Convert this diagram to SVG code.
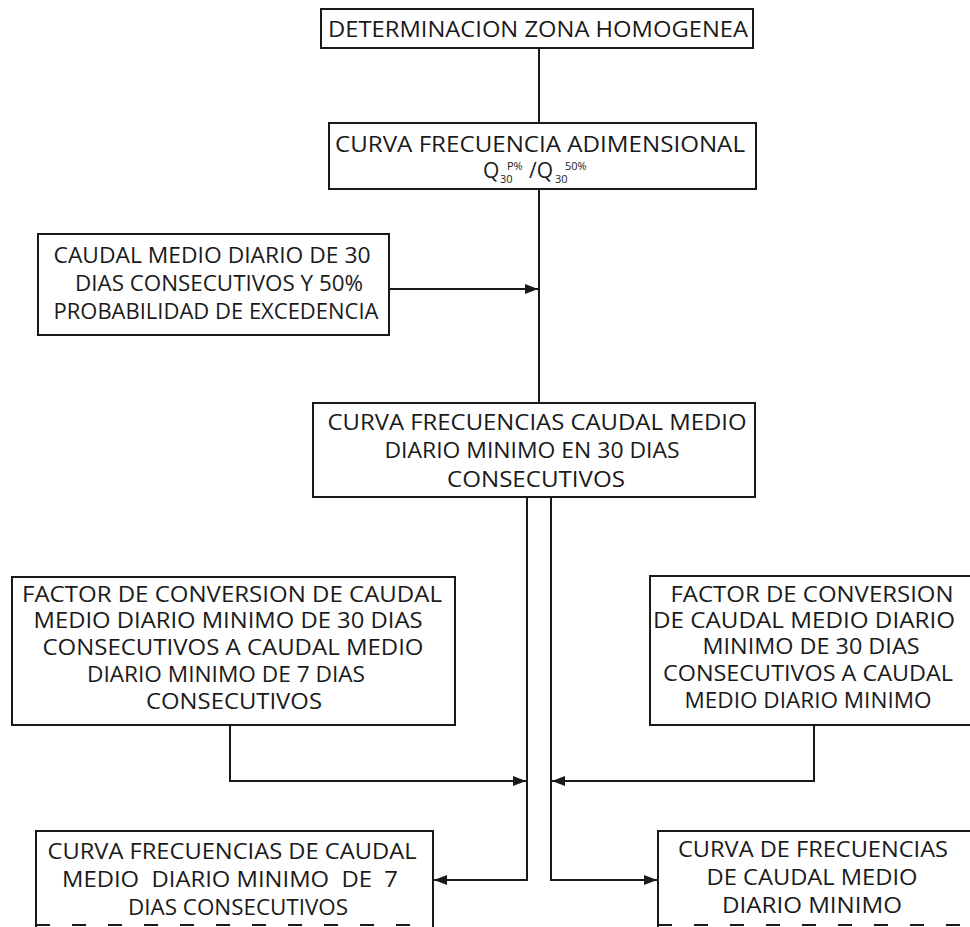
<svg xmlns="http://www.w3.org/2000/svg" width="970" height="927" viewBox="0 0 970 927">
<style>
.box{fill:#fff;stroke:#1a1a1a;stroke-width:2}
.t{font-family:"Open Sans","Liberation Sans",sans-serif;font-size:21px;fill:#1a1a1a;text-anchor:middle}
.s{font-family:"Open Sans","Liberation Sans",sans-serif;fill:#1a1a1a}
.c{fill:none;stroke:#1a1a1a;stroke-width:2}
</style>
<defs>
<marker id="ah" markerWidth="14" markerHeight="11" refX="13" refY="5.5" orient="auto" markerUnits="userSpaceOnUse">
<path d="M0,0.5 L13,5.5 L0,10.5 Z" fill="#1a1a1a"/>
</marker>
</defs>
<rect width="970" height="927" fill="#fff"/>
<g id="connectors">
<line class="c" x1="539" y1="48" x2="539" y2="123"/>
<line class="c" x1="539" y1="189" x2="539" y2="403"/>
<line class="c" x1="389" y1="289" x2="538" y2="289" marker-end="url(#ah)"/>
<polyline class="c" points="527,497 527,880 434,880" marker-end="url(#ah)"/>
<polyline class="c" points="551,497 551,880 657,880" marker-end="url(#ah)"/>
<polyline class="c" points="230,725 230,781 526,781" marker-end="url(#ah)"/>
<polyline class="c" points="814,725 814,781 552,781" marker-end="url(#ah)"/>
</g>
<g id="n1">
<rect class="box" x="321" y="9" width="432" height="39"/>
<text class="t" x="538" y="37" font-size="22" textLength="420" lengthAdjust="spacingAndGlyphs">DETERMINACION ZONA HOMOGENEA</text>
</g>
<g id="n2">
<rect class="box" x="329" y="123" width="427" height="66"/>
<text class="t" x="540" y="152" textLength="410" lengthAdjust="spacingAndGlyphs">CURVA FRECUENCIA ADIMENSIONAL</text>
<text class="s" font-size="21"><tspan x="483" y="178">Q</tspan><tspan x="500" y="183" font-size="11">30</tspan><tspan x="507" y="170" font-size="11">P%</tspan><tspan x="529" y="178">/Q</tspan><tspan x="555" y="183" font-size="11">30</tspan><tspan x="565" y="170" font-size="11">50%</tspan></text>
</g>
<g id="n3">
<rect class="box" x="38" y="234" width="351" height="101"/>
<text class="t" x="212" y="263" textLength="317" lengthAdjust="spacingAndGlyphs">CAUDAL MEDIO DIARIO DE 30</text>
<text class="t" x="219" y="291" textLength="288" lengthAdjust="spacingAndGlyphs">DIAS CONSECUTIVOS Y 50%</text>
<text class="t" x="216" y="319" textLength="325" lengthAdjust="spacingAndGlyphs">PROBABILIDAD DE EXCEDENCIA</text>
</g>
<g id="n4">
<rect class="box" x="313" y="403" width="442" height="94"/>
<text class="t" x="537" y="430" textLength="419" lengthAdjust="spacingAndGlyphs">CURVA FRECUENCIAS CAUDAL MEDIO</text>
<text class="t" x="532" y="458" textLength="295" lengthAdjust="spacingAndGlyphs">DIARIO MINIMO EN 30 DIAS</text>
<text class="t" x="536" y="487" textLength="178" lengthAdjust="spacingAndGlyphs">CONSECUTIVOS</text>
</g>
<g id="n5">
<rect class="box" x="12" y="577" width="443" height="148"/>
<text class="t" x="232" y="602" textLength="420" lengthAdjust="spacingAndGlyphs">FACTOR DE CONVERSION DE CAUDAL</text>
<text class="t" x="228" y="628" textLength="389" lengthAdjust="spacingAndGlyphs">MEDIO DIARIO MINIMO DE 30 DIAS</text>
<text class="t" x="233" y="655" textLength="381" lengthAdjust="spacingAndGlyphs">CONSECUTIVOS A CAUDAL MEDIO</text>
<text class="t" x="226" y="682" textLength="278" lengthAdjust="spacingAndGlyphs">DIARIO MINIMO DE 7 DIAS</text>
<text class="t" x="234" y="709" textLength="176" lengthAdjust="spacingAndGlyphs">CONSECUTIVOS</text>
</g>
<g id="n6">
<rect class="box" x="650" y="576" width="340" height="149"/>
<text class="t" x="812" y="602" textLength="283" lengthAdjust="spacingAndGlyphs">FACTOR DE CONVERSION</text>
<text class="t" x="804" y="628" textLength="302" lengthAdjust="spacingAndGlyphs">DE CAUDAL MEDIO DIARIO</text>
<text class="t" x="811" y="654" textLength="217" lengthAdjust="spacingAndGlyphs">MINIMO DE 30 DIAS</text>
<text class="t" x="808" y="681" textLength="290" lengthAdjust="spacingAndGlyphs">CONSECUTIVOS A CAUDAL</text>
<text class="t" x="808" y="708" textLength="247" lengthAdjust="spacingAndGlyphs">MEDIO DIARIO MINIMO</text>
</g>
<g id="n7">
<rect class="box" x="36" y="831" width="397" height="110"/>
<line x1="36" y1="925" x2="433" y2="925" stroke="#1a1a1a" stroke-width="2" stroke-dasharray="14,22"/>
<text class="t" x="232" y="859" textLength="369" lengthAdjust="spacingAndGlyphs">CURVA FRECUENCIAS DE CAUDAL</text>
<text class="t" x="230" y="887" textLength="336" lengthAdjust="spacingAndGlyphs" xml:space="preserve">MEDIO  DIARIO MINIMO  DE  7</text>
<text class="t" x="238" y="915" textLength="220" lengthAdjust="spacingAndGlyphs">DIAS CONSECUTIVOS</text>
</g>
<g id="n8">
<rect class="box" x="658" y="831" width="340" height="110"/>
<line x1="658" y1="925" x2="970" y2="925" stroke="#1a1a1a" stroke-width="2" stroke-dasharray="14,22"/>
<text class="t" x="813" y="857" textLength="270" lengthAdjust="spacingAndGlyphs">CURVA DE FRECUENCIAS</text>
<text class="t" x="812" y="885" textLength="211" lengthAdjust="spacingAndGlyphs">DE CAUDAL MEDIO</text>
<text class="t" x="812" y="913" textLength="180" lengthAdjust="spacingAndGlyphs">DIARIO MINIMO</text>
</g>
</svg>
